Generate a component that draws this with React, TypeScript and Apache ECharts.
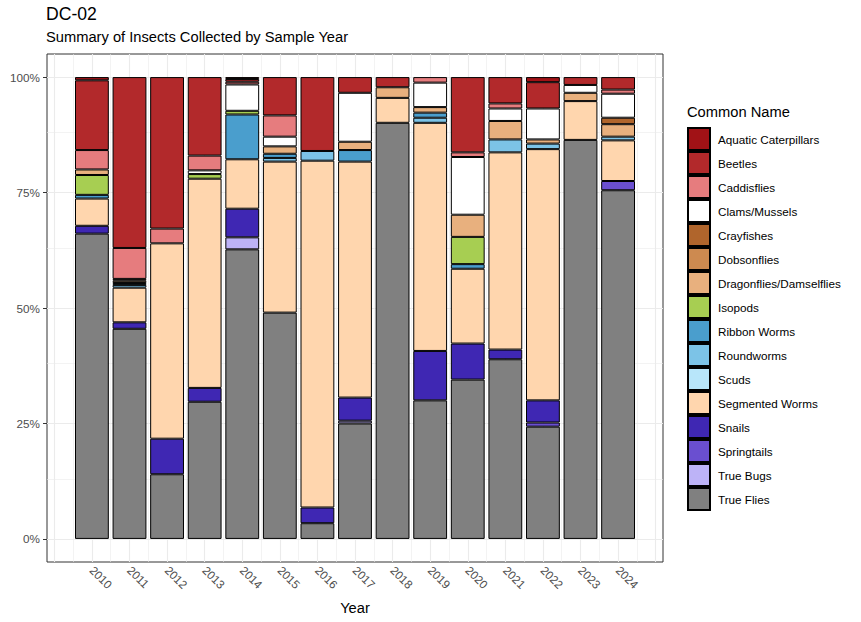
import React, { useEffect, useRef } from "react";
import * as echarts from "echarts";

const years = [2010, 2011, 2012, 2013, 2014, 2015, 2016, 2017, 2018, 2019, 2020, 2021, 2022, 2023, 2024];

const commonNames = [
  "Aquatic Caterpillars", "Beetles", "Caddisflies", "Clams/Mussels", "Crayfishes", "Dobsonflies",
  "Dragonflies/Damselflies", "Isopods", "Ribbon Worms", "Roundworms", "Scuds", "Segmented Worms",
  "Snails", "Springtails", "True Bugs", "True Flies",
];

const nameColors = [
  "#A11216", "#B2292B", "#E67C7E", "#FFFFFF", "#B0652C", "#CD8A50",
  "#E8B07E", "#A7CE52", "#4A9ECD", "#7CC3E7", "#B8E6FA", "#FFD6AE",
  "#3F27B3", "#6A4FD0", "#BDB3F7", "#808080",
];

// fractions per year, 2010..2024 (null = none collected)
const aquaticCaterpillars = [0.007, null, null, null, 0.004, null, null, null, null, null, null, null, 0.011, null, null];
const beetles = [0.151, 0.37, 0.328, 0.17, 0.006, 0.083, 0.16, 0.034, 0.022, null, 0.163, 0.057, 0.057, 0.017, 0.027];
const caddisflies = [0.042, 0.067, 0.032, 0.032, 0.006, 0.046, null, null, null, 0.012, 0.01, 0.011, null, null, 0.009];
const clamsMussels = [null, null, null, 0.008, 0.057, 0.021, null, 0.106, null, 0.053, 0.125, 0.027, 0.067, 0.017, 0.052];
const crayfishes = [null, null, null, null, null, null, null, null, null, null, null, null, null, null, 0.014];
const dobsonflies = [null, 0.004, null, null, null, null, null, null, null, null, null, null, null, null, null];
const dragonflies = [0.012, 0.005, null, null, null, 0.016, null, 0.018, 0.023, 0.012, 0.048, 0.04, 0.009, 0.018, 0.027];
const isopods = [0.043, null, null, 0.01, 0.008, null, null, null, null, null, 0.059, null, null, null, null];
const ribbonWorms = [0.008, 0.004, null, null, 0.097, 0.009, null, 0.025, null, 0.011, 0.01, null, null, null, null];
const roundworms = [null, 0.006, null, null, null, 0.008, 0.021, null, null, 0.011, null, 0.028, 0.012, null, 0.008];
const scuds = [null, null, null, null, null, null, null, null, null, null, null, null, null, null, null];
const segmentedWorms = [0.059, 0.075, 0.423, 0.453, 0.107, 0.327, 0.751, 0.511, 0.054, 0.494, 0.162, 0.427, 0.544, 0.084, 0.088];
const snails = [0.017, 0.014, 0.077, 0.03, 0.062, null, 0.034, 0.05, null, 0.107, 0.078, 0.021, 0.048, null, null];
const springtails = [null, null, null, null, null, null, null, null, null, null, null, null, 0.009, null, 0.02];
const trueBugs = [null, null, null, null, 0.026, null, null, 0.006, null, null, null, null, null, null, null];
const trueFlies = [0.661, 0.455, 0.14, 0.297, 0.627, 0.49, 0.034, 0.25, 0.901, 0.3, 0.345, 0.389, 0.243, 0.864, 0.755];

const seriesValues = [
  aquaticCaterpillars, beetles, caddisflies, clamsMussels, crayfishes, dobsonflies,
  dragonflies, isopods, ribbonWorms, roundworms, scuds, segmentedWorms,
  snails, springtails, trueBugs, trueFlies,
];

const yTickValues = [0, 0.25, 0.5, 0.75, 1];
const yMinorGrid = [0.125, 0.375, 0.625, 0.875];
const xMajorGrid = [2009, 2010, 2011, 2012, 2013, 2014, 2015, 2016, 2017, 2018, 2019, 2020, 2021, 2022, 2023, 2024, 2025];
const xMinorGrid = [2009.5, 2010.5, 2011.5, 2012.5, 2013.5, 2014.5, 2015.5, 2016.5, 2017.5, 2018.5, 2019.5, 2020.5, 2021.5, 2022.5, 2023.5, 2024.5];

const FONT = "'Liberation Sans', Arial, sans-serif";

// panel geometry (continuous year scale with 5% expansion)
const X_MIN = 2008.805;
const X_MAX = 2025.195;
const Y_MIN = -0.05;
const Y_MAX = 1.05;
const PANEL_LEFT = 47;
const PANEL_RIGHT_EDGE = 663;
const PANEL_TOP = 54;
const PANEL_BOTTOM = 60;
const CHART_W = 861;

export default function App() {
  const ref = useRef<HTMLDivElement>(null);

  useEffect(() => {
    if (!ref.current) return;
    const chart = echarts.init(ref.current, null, { renderer: "svg" });

    const pxPerYear = (PANEL_RIGHT_EDGE - PANEL_LEFT) / (X_MAX - X_MIN);
    const barGridLeft = PANEL_LEFT + (years[0] - 0.5 - X_MIN) * pxPerYear;
    const barGridWidth = years.length * pxPerYear;
    const barGridRight = CHART_W - barGridLeft - barGridWidth;

    const barSeries: any[] = [];
    for (let i = commonNames.length - 1; i >= 0; i--) {
      const vals = seriesValues[i];
      barSeries.push({
        type: "bar",
        name: commonNames[i],
        stack: "total",
        xAxisIndex: 1,
        yAxisIndex: 1,
        barWidth: 0.9 * pxPerYear,
        z: 2,
        itemStyle: { color: nameColors[i], borderColor: "#000000", borderWidth: 1 },
        emphasis: { disabled: true },
        data: vals.map((v) => (v == null ? "-" : v)),
      });
    }

    const gridLineSeries = {
      type: "line",
      name: "__grid",
      xAxisIndex: 0,
      yAxisIndex: 0,
      data: [],
      silent: true,
      markLine: {
        silent: true,
        z: 1,
        symbol: "none",
        animation: false,
        label: { show: false },
        emphasis: { disabled: true },
        lineStyle: { color: "#EBEBEB", type: "solid", width: 1 },
        data: [
          ...xMinorGrid.map((v) => ({ xAxis: v, lineStyle: { color: "#EBEBEB", width: 0.6, type: "solid" } })),
          ...yMinorGrid.map((v) => ({ yAxis: v, lineStyle: { color: "#EBEBEB", width: 0.6, type: "solid" } })),
          ...xMajorGrid.map((v) => ({ xAxis: v, lineStyle: { color: "#EBEBEB", width: 1.1, type: "solid" } })),
          ...yTickValues.map((v) => ({ yAxis: v, lineStyle: { color: "#EBEBEB", width: 1.1, type: "solid" } })),
        ],
      },
    };

    chart.setOption({
      animation: false,
      backgroundColor: "#FFFFFF",
      textStyle: { fontFamily: FONT },
      title: [
        { text: "DC-02", left: 46, top: 5, padding: 0, textStyle: { fontFamily: FONT, fontSize: 17.6, fontWeight: "normal", color: "#000" } },
        { text: "Summary of Insects Collected by Sample Year", left: 46, top: 29, padding: 0, textStyle: { fontFamily: FONT, fontSize: 14.7, fontWeight: "normal", color: "#000" } },
        { text: "Common Name", left: 687, top: 104, padding: 0, textStyle: { fontFamily: FONT, fontSize: 14.7, fontWeight: "normal", color: "#000" } },
      ],
      legend: {
        orient: "vertical",
        left: 687,
        top: 127,
        padding: 0,
        itemWidth: 22,
        itemHeight: 22,
        itemGap: 0,
        icon: "rect",
        selectedMode: false,
        data: commonNames,
        textStyle: { fontFamily: FONT, fontSize: 11.7, color: "#000", padding: [0, 0, 0, 3] },
      },
      grid: [
        {
          left: PANEL_LEFT,
          top: PANEL_TOP,
          right: CHART_W - PANEL_RIGHT_EDGE,
          bottom: PANEL_BOTTOM,
          show: true,
          backgroundColor: "#FFFFFF",
          borderColor: "#333333",
          borderWidth: 1,
          containLabel: false,
        },
        {
          left: barGridLeft,
          top: PANEL_TOP,
          right: barGridRight,
          bottom: PANEL_BOTTOM,
          show: false,
          containLabel: false,
        },
      ],
      xAxis: [
        {
          type: "value",
          gridIndex: 0,
          min: X_MIN,
          max: X_MAX,
          name: "Year",
          nameLocation: "middle",
          nameGap: 38,
          nameTextStyle: { fontFamily: FONT, fontSize: 14.7, color: "#000" },
          axisLine: { show: false },
          splitLine: { show: false },
          axisTick: { show: true, length: 4, customValues: years, lineStyle: { color: "#333333" } },
          axisLabel: {
            customValues: years,
            rotate: -45,
            margin: 6,
            fontFamily: FONT,
            fontSize: 11.7,
            color: "#4D4D4D",
            formatter: (v: number) => String(Math.round(v)),
          },
        },
        {
          type: "category",
          gridIndex: 1,
          data: years.map(String),
          boundaryGap: true,
          show: false,
          axisLine: { show: false },
          axisTick: { show: false },
          axisLabel: { show: false },
          splitLine: { show: false },
        },
      ],
      yAxis: [
        {
          type: "value",
          gridIndex: 0,
          min: Y_MIN,
          max: Y_MAX,
          axisLine: { show: false },
          splitLine: { show: false },
          axisTick: { show: true, length: 4, customValues: yTickValues, lineStyle: { color: "#333333" } },
          axisLabel: {
            customValues: yTickValues,
            margin: 7,
            fontFamily: FONT,
            fontSize: 11.7,
            color: "#4D4D4D",
            formatter: (v: number) => Math.round(v * 100) + "%",
          },
        },
        {
          type: "value",
          gridIndex: 1,
          min: Y_MIN,
          max: Y_MAX,
          show: false,
          axisLine: { show: false },
          axisTick: { show: false },
          axisLabel: { show: false },
          splitLine: { show: false },
        },
      ],
      series: [gridLineSeries, ...barSeries],
    });

    return () => chart.dispose();
  }, []);

  return <div ref={ref} style={{ position: "fixed", left: 0, top: 0, width: 861, height: 622 }} />;
}
